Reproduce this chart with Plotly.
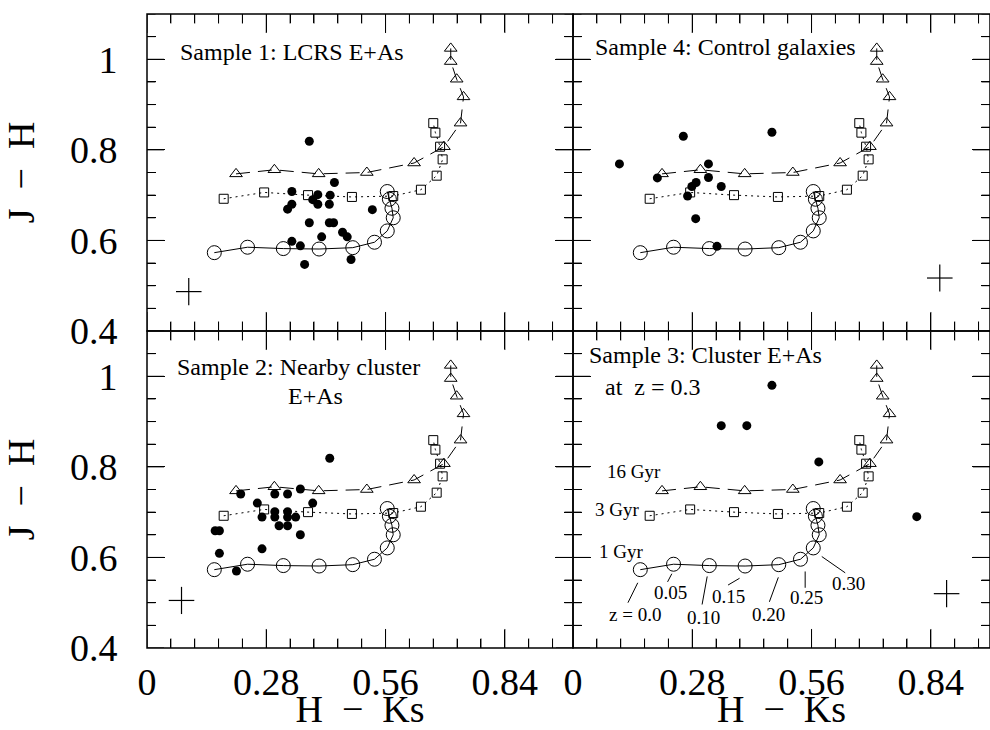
import plotly.graph_objects as go

# ---------------- model tracks (H-Ks, J-H) ----------------
gyr1_x = [0.158, 0.236, 0.320, 0.404, 0.483, 0.534, 0.564, 0.578, 0.575, 0.569, 0.564]
gyr1_y = [0.573, 0.585, 0.582, 0.581, 0.584, 0.596, 0.621, 0.650, 0.671, 0.691, 0.708]
gyr3_x = [0.180, 0.275, 0.378, 0.481, 0.578, 0.643, 0.680, 0.694, 0.688, 0.677, 0.672]
gyr3_y = [0.692, 0.706, 0.700, 0.696, 0.698, 0.712, 0.743, 0.779, 0.807, 0.838, 0.859]
gyr16_x = [0.209, 0.299, 0.403, 0.516, 0.627, 0.697, 0.736, 0.743, 0.727, 0.713, 0.713]
gyr16_y = [0.747, 0.756, 0.747, 0.750, 0.771, 0.807, 0.859, 0.917, 0.956, 0.995, 1.024]

# ---------------- observed samples ----------------
s1_x = [0.381, 0.440, 0.340, 0.401, 0.430, 0.389, 0.401, 0.428, 0.340, 0.330, 0.529,
        0.381, 0.428, 0.438, 0.459, 0.470, 0.410, 0.340, 0.360, 0.479, 0.370]
s1_y = [0.819, 0.728, 0.708, 0.701, 0.700, 0.690, 0.680, 0.680, 0.680, 0.669, 0.668,
        0.639, 0.639, 0.639, 0.618, 0.608, 0.608, 0.598, 0.588, 0.558, 0.547]

s2_x = [0.429, 0.220, 0.300, 0.330, 0.360, 0.389, 0.259, 0.270, 0.300, 0.300, 0.330,
        0.330, 0.349, 0.310, 0.330, 0.360, 0.160, 0.170, 0.170, 0.270, 0.210]
s2_y = [0.819, 0.740, 0.740, 0.740, 0.751, 0.720, 0.720, 0.689, 0.701, 0.689, 0.701,
        0.689, 0.689, 0.670, 0.670, 0.650, 0.659, 0.659, 0.609, 0.619, 0.570]

s3_x = [0.467, 0.348, 0.408, 0.577, 0.807]
s3_y = [0.980, 0.891, 0.891, 0.811, 0.690]

s4_x = [0.109, 0.259, 0.467, 0.198, 0.318, 0.318, 0.289, 0.279, 0.269, 0.348, 0.288, 0.338]
s4_y = [0.769, 0.830, 0.839, 0.738, 0.769, 0.739, 0.728, 0.719, 0.698, 0.719, 0.648, 0.587]

# typical error bars (cross) per panel
err_x = {"s1": 0.098, "s2": 0.081, "s3": 0.877, "s4": 0.861}
err_y = {"s1": 0.487, "s2": 0.505, "s3": 0.520, "s4": 0.517}
err_size = 0.03

# redshift labels on the 1 Gyr track (sample 3 panel)
z_labels = ["z = 0.0", "0.05", "0.10", "0.15", "0.20", "0.25", "0.30"]
z_label_x = [0.146, 0.228, 0.306, 0.365, 0.459, 0.547, 0.646]
z_label_y = [0.475, 0.522, 0.467, 0.513, 0.473, 0.511, 0.543]
z_tick_x0 = [0.129, 0.222, 0.303, 0.364, 0.461, 0.545, 0.584]
z_tick_y0 = [0.500, 0.546, 0.496, 0.539, 0.502, 0.533, 0.602]
z_tick_x1 = [0.152, 0.232, 0.315, 0.391, 0.482, 0.545, 0.639]
z_tick_y1 = [0.544, 0.564, 0.558, 0.554, 0.556, 0.569, 0.566]

age_labels = ["16 Gyr", "3 Gyr", "1 Gyr"]
age_label_x = [0.144, 0.103, 0.113]
age_label_y = [0.790, 0.705, 0.613]

x_ticks = [0, 0.28, 0.56, 0.84]
x_ticktext = ["0", "0.28", "0.56", "0.84"]
x_minor_step = 0.056
y_ticks = [0.4, 0.6, 0.8, 1.0]
y_ticktext = ["0.4", "0.6", "0.8", "1"]
y_minor_step = 0.05

FONT = "Liberation Serif, Times New Roman, serif"

dL = 426.0 / 843.0
xr_right = 417.0 / 426.0
Y_RANGE = [0.4, 1.1]
X_TICK_MAJ, X_TICK_MIN = 0.040, 0.020
Y_TICK_MAJ, Y_TICK_MIN = 0.042, 0.021

fig = go.Figure()

panels = [
    ("x3", "y3", s1_x, s1_y, "s1", 1.0),
    ("x4", "y4", s4_x, s4_y, "s4", xr_right),
    ("x", "y", s2_x, s2_y, "s2", 1.0),
    ("x2", "y2", s3_x, s3_y, "s3", xr_right),
]


def tick_positions(start, stop, step, majors):
    out = []
    k = 0
    while start + k * step <= stop + 1e-9:
        v = round(start + k * step, 4)
        out.append((v, any(abs(v - m) < 1e-6 for m in majors)))
        k += 1
    return out


for xr, yr, sx, sy, key, xmax in panels:
    fig.add_trace(go.Scatter(x=gyr16_x, y=gyr16_y, xaxis=xr, yaxis=yr, mode="lines+markers",
                             line=dict(color="black", width=1, dash="14px,8px"),
                             marker=dict(symbol="triangle-up-open", size=11, color="black",
                                         line=dict(width=1, color="black")),
                             showlegend=False, hoverinfo="skip"))
    fig.add_trace(go.Scatter(x=gyr3_x, y=gyr3_y, xaxis=xr, yaxis=yr, mode="lines+markers",
                             line=dict(color="black", width=1, dash="2px,4px"),
                             marker=dict(symbol="square-open", size=9, color="black",
                                         line=dict(width=1, color="black")),
                             showlegend=False, hoverinfo="skip"))
    fig.add_trace(go.Scatter(x=gyr1_x, y=gyr1_y, xaxis=xr, yaxis=yr, mode="lines+markers",
                             line=dict(color="black", width=1),
                             marker=dict(symbol="circle-open", size=14, color="black",
                                         line=dict(width=1, color="black")),
                             showlegend=False, hoverinfo="skip"))
    fig.add_trace(go.Scatter(x=sx, y=sy, xaxis=xr, yaxis=yr, mode="markers",
                             marker=dict(symbol="circle", size=9, color="black"),
                             showlegend=False))
    # typical error cross
    ex, ey = err_x[key], err_y[key]
    fig.add_trace(go.Scatter(x=[ex - err_size, ex + err_size, None, ex, ex],
                             y=[ey, ey, None, ey - err_size, ey + err_size],
                             xaxis=xr, yaxis=yr, mode="lines",
                             line=dict(color="black", width=1.2),
                             showlegend=False, hoverinfo="skip"))
    # inside tick marks on all four sides of the panel
    tx, ty = [], []
    for v, major in tick_positions(0.0, xmax, x_minor_step, x_ticks):
        ln = Y_TICK_MAJ if major else Y_TICK_MIN
        tx += [v, v, None, v, v, None]
        ty += [Y_RANGE[0], Y_RANGE[0] + ln, None, Y_RANGE[1], Y_RANGE[1] - ln, None]
    for v, major in tick_positions(Y_RANGE[0], Y_RANGE[1], y_minor_step, y_ticks):
        ln = X_TICK_MAJ if major else X_TICK_MIN
        tx += [0.0, ln, None, xmax, xmax - ln, None]
        ty += [v, v, None, v, v, None]
    fig.add_trace(go.Scatter(x=tx, y=ty, xaxis=xr, yaxis=yr, mode="lines",
                             line=dict(color="black", width=1),
                             showlegend=False, hoverinfo="skip"))

seg_x, seg_y = [], []
for a, b, c, d in zip(z_tick_x0, z_tick_x1, z_tick_y0, z_tick_y1):
    seg_x += [a, b, None]
    seg_y += [c, d, None]
fig.add_trace(go.Scatter(x=seg_x, y=seg_y, xaxis="x2", yaxis="y2", mode="lines",
                         line=dict(color="black", width=1), showlegend=False, hoverinfo="skip"))

annotations = []
def txt(text, x, y, xref, yref, size=24, xanchor="left"):
    annotations.append(dict(text=text, x=x, y=y, xref=xref, yref=yref, showarrow=False,
                            xanchor=xanchor, yanchor="middle",
                            font=dict(family=FONT, size=size, color="black")))

txt("Sample 1: LCRS E+As", 0.072, 1.017, "x3", "y3")
txt("Sample 4: Control galaxies", 0.047, 1.028, "x4", "y4")
txt("Sample 2: Nearby cluster", 0.065, 1.021, "x", "y")
txt("E+As", 0.396, 0.957, "x", "y", xanchor="center")
txt("Sample 3: Cluster E+As", 0.033, 1.046, "x2", "y2")
txt("at\u00a0\u00a0z = 0.3", 0.070, 0.976, "x2", "y2")
for t, x, y in zip(z_labels, z_label_x, z_label_y):
    txt(t, x, y, "x2", "y2", size=19, xanchor="center")
for t, x, y in zip(age_labels, age_label_x, age_label_y):
    txt(t, x, y, "x2", "y2", size=19, xanchor="center")

# panel frames
shapes = []
for xr, yr, _, _, _, _ in panels:
    shapes.append(dict(type="rect", xref=xr + " domain", yref=yr + " domain",
                       x0=0, x1=1, y0=0, y1=1, line=dict(color="black", width=1.5),
                       fillcolor="rgba(0,0,0,0)", layer="above"))

def xaxis(domain, rng, anchor, labels):
    return dict(domain=domain, range=rng, anchor=anchor, showline=True, mirror="ticks",
                ticks="inside", ticklen=18, tickcolor="black",
                minor=dict(ticks="inside", ticklen=9, tickcolor="black",
                           dtick=x_minor_step, tick0=0),
                showgrid=False, zeroline=False, showticklabels=labels,
                tickmode="array", tickvals=x_ticks, ticktext=x_ticktext,
                tickfont=dict(family=FONT, size=38, color="black"),
                title=dict(text="H\u00a0\u00a0\u2212\u00a0\u00a0Ks" if labels else "",
                           font=dict(family=FONT, size=38, color="black"), standoff=0))

def yaxis(domain, anchor, labels):
    return dict(domain=domain, range=Y_RANGE, anchor=anchor, showline=True, mirror="ticks",
                ticks="inside", ticklen=18, tickcolor="black",
                minor=dict(ticks="inside", ticklen=9, tickcolor="black",
                           dtick=y_minor_step, tick0=0.4),
                showgrid=False, zeroline=False, showticklabels=labels,
                tickmode="array", tickvals=y_ticks, ticktext=y_ticktext,
                ticklabelstandoff=21,
                tickfont=dict(family=FONT, size=38, color="black"),
                title=dict(text="J\u00a0\u00a0\u2212\u00a0\u00a0H" if labels else "",
                           font=dict(family=FONT, size=38, color="black"), standoff=25))

fig.update_layout(
    width=990, height=730,
    margin=dict(l=147, r=0, t=14, b=82),
    paper_bgcolor="white", plot_bgcolor="rgba(0,0,0,0)",
    showlegend=False,
    annotations=annotations,
    shapes=shapes,
    xaxis=xaxis([0, dL], [0, 1.0], "y", True),
    xaxis2=xaxis([dL, 1], [0, xr_right], "y2", True),
    xaxis3=xaxis([0, dL], [0, 1.0], "y3", False),
    xaxis4=xaxis([dL, 1], [0, xr_right], "y4", False),
    yaxis=yaxis([0, 0.5], "x", True),
    yaxis2=yaxis([0, 0.5], "x2", False),
    yaxis3=yaxis([0.5, 1], "x3", True),
    yaxis4=yaxis([0.5, 1], "x4", False),
)

fig.write_html("out.html", config={"displayModeBar": False},
               post_script="document.body.style.margin='0px';")
